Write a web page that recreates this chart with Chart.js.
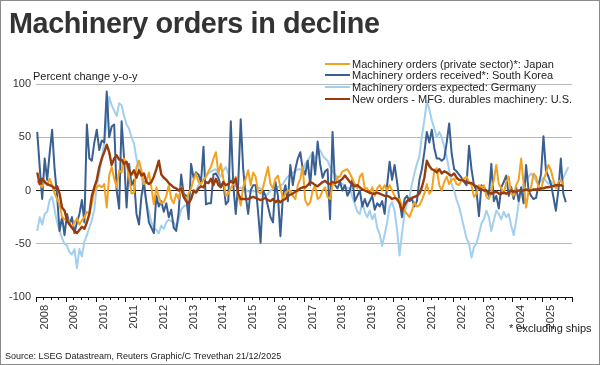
<!DOCTYPE html>
<html><head><meta charset="utf-8">
<script src="https://cdn.jsdelivr.net/npm/chart.js@4.4.1/dist/chart.umd.min.js"></script>
<style>
html,body{margin:0;padding:0;background:#fff;}
#wrap{position:relative;width:600px;height:365px;overflow:hidden;background:#fff;font-family:"Liberation Sans",Arial,sans-serif;}
#frame{position:absolute;left:0;top:0;width:600px;height:365px;box-sizing:border-box;border:1px solid #8a8a8a;pointer-events:none;}
canvas{position:absolute;left:0;top:0;}
#title{position:absolute;left:9px;top:6px;font-weight:bold;font-size:30px;letter-spacing:-0.4px;color:#333;white-space:nowrap;transform:scaleX(0.96);transform-origin:0 0;line-height:1.117;}
#unit{position:absolute;left:33px;top:70px;font-size:11px;color:#222;white-space:nowrap;line-height:13px;}
#legend{position:absolute;left:325px;top:58px;font-size:11px;color:#222;}
.row{height:11.6px;white-space:nowrap;display:flex;align-items:center;}
.sw{display:inline-block;width:25px;height:2px;margin-right:2px;}
#note{position:absolute;left:509px;top:322px;font-size:11px;color:#222;white-space:nowrap;line-height:13px;}
#source{position:absolute;left:5px;top:351px;font-size:9px;color:#222;white-space:nowrap;line-height:11px;}
</style></head><body>
<div id="wrap">
<canvas id="c" width="600" height="365"></canvas>
<div id="title">Machinery orders in decline</div>
<div id="unit">Percent change y-o-y</div>
<div id="legend"></div>
<div id="note">* excluding ships</div>
<div id="source">Source: LSEG Datastream, Reuters Graphic/C Trevethan 21/12/2025</div>
<div id="frame"></div>
</div>
<script>
// ---- data (monthly, Jan 2008 onward, % change y/y) ----
const startYear = 2008;
const endYear = 2025;
const yTicks = [-100, -50, 0, 50, 100];

const japan = [
  9, 6, 3, 9, 5, 11, 5, -3, -8, -13, -25, -27,
  -27, -30, -35, -30, -26, -32, -28, -25, -20, -22, -12, 0,
  3, 5, 3, 6, -16, 14, 22, 11, 3, 19, 17, 30,
  25, 13, -3, -2, 22, 28, 19, 6, 8, 17, 3, -13,
  3, -6, -12, -11, -5, 5, -8, -12, -3, -8, 3, -5,
  -9, -3, 2, 10, 16, 8, 6, 10, 13, 18, 22, 30,
  36, 16, 25, 11, -5, -3, 2, 6, 13, -5, -14, 3,
  11, 19, 5, 17, 13, -1, -3, 3, 13, 22, 6, 2,
  11, 14, 3, -8, -3, 0, 0, -5, -8, 5, 11, 22,
  -9, -14, -11, 0, 5, -8, -6, 0, 3, -6, -8, 5,
  6, 13, 13, 18, 19, 20, 16, 11, 6, 2, 13, 16,
  2, 2, -3, 3, -5, 2, 5, 0, 5, 0, 5, 0,
  -5, -9, -8, -14, -19, -22, -25, -19, -11, -15, -14, -9,
  -3, 6, -3, 0, 19, 21, 5, 0, 8, 13, 6, 10,
  11, 6, 5, 10, 11, 13, 8, 5, -6, -3, 5, 3,
  5, -6, -8, -1, 10, 24, 6, 2, -3, 8, 13, -3,
  -5, 5, 10, 30, 6, -16, 0, 3, 16, 13, 3, 1,
  10, 16, 24, 19, 10, 2, 8, 10, 5
];

const korea = [
  55, 22, -8, 30, 10, 35, 57, 20, -5, -38, -25, -42,
  -22, -32, -25, -40, -30, -22, -9, -30, 62, 30, 28, 45,
  57, 38, 47, 45, 93, 50, 60, 62, 0, -17, 65, 30,
  -16, 25, 5, 10, -22, -32, -5, 8, -12, -30, -35, -40,
  -5, -15, -10, -20, -12, -25, -18, -35, -38, -20, 15, -3,
  -5, -27, 25, 12, 17, 15, 8, 41, -13, -12, -12, 15,
  16, 12, 3, 8, -13, -10, 65, 5, -22, 7, 67, 20,
  -5, -22, 0, 5, 5, -20, -49, 0, -5, -15, -25, -30,
  8, -5, -43, -5, 5, -10, 24, 5, 20, 30, 36, 20,
  15, 28, 5, 36, 15, 46, 25, 12, 18, 20, -27, 55,
  5, 2, 8, 0, 5, -5, 0, 10, -10, -5, 0, -15,
  -8, -15, -10, -5, -18, -12, -15, -10, -22, 5, 27, 10,
  24, 8, -10, -25, -8, -5, -10, -8, -15, -10, 10, 20,
  36, 55, 45, 57, 40, 30, 30, 28, 30, 45, 63, 35,
  20, 18, 15, 12, 8, 5, 42, 20, 5, 0, -24, 5,
  3, 0, -5, 25, -10, -5, -17, 3, 8, 14, -5, 3,
  -8, 3, -10, 3, -12, 24, 0, -5, -8, -7, 5, 15,
  51, 19, 13, 6, -6, -19, 0, 30, -3, -11
];

const germany = [
  -38, -25, -32, -22, -20, -9, -6, -18, -30, -38, -45, -50,
  -52, -58, -60, -55, -73, -55, -62, -48, -42, -35, -28, -18,
  5, 15, 30, 45, 65, 88, 80, 75, 70, 82, 80, 70,
  62, 58, 50, 44, 30, 20, 13, 0, -10, -20, -30, -35,
  -37, -40, -33, -36, -30, -27, -29, -30, -35, -27, -18, -15,
  -14, -11, -8, -3, 0, 5, 8, 10, 13, 16, 18, 19,
  20, 16, 13, 19, 22, 16, 10, 4, 5, 2, 3, 0,
  1, -1, 0, -1, 0, 3, 2, -1, -5, -3, 0, 1,
  2, 3, 5, 6, 10, 13, 15, 17, 18, 20, 20, 17,
  25, 28, 32, 35, 30, 36, 38, 33, 30, 28, 22, 18,
  15, 12, 8, 6, 4, 2, 2, -6, -13, -20, -22, -11,
  -20, -25, -19, -27, -22, -35, -41, -52, -41, -30, -15, -11,
  -19, -37, -61, -40, -22, -12, -6, 6, 16, 25, 32, 51,
  66, 84, 76, 66, 58, 50, 55, 50, 41, 32, 19, 6,
  0, -9, -15, -25, -35, -45, -50, -63, -53, -50, -41, -31,
  -27, -19, -25, -38, -28, -19, -22, -27, -20, -25, -22, -33,
  -42, -28, -12, 0, 6, 9, 13, 16, 13, 9, 6, 9,
  12, 9, 6, 9, 5, 3, 6, 9, 12, 17, 22
];

const us = [
  17, 6, 11, 8, 6, 5, 4, 2, 4, -3, -16, -19,
  -28, -32, -35, -38, -40, -37, -34, -36, -30, -22, -5, 3,
  10, 22, 30, 36, 43, 36, 24, 30, 33, 29, 29, 25,
  27, 19, 15, 19, 12, 19, 14, 16, 8, 6, 8, 13,
  20, 28, 15, 12, 10, 7, 5, 3, 2, 0, 2, -6,
  -10, -12, -8, 0, -2, 2, 4, 3, 8, 7, 11, 5,
  11, 5, 3, 8, 5, 6, 9, 7, 11, -3, -8, -8,
  -8, -8, -7, -6, -7, -8, -9, -8, -7, -9, -10, -8,
  -11, -9, -11, -9, -8, -5, -4, -3, -1, 0, 2, 3,
  3, 5, 8, 7, 5, 4, 6, 8, 9, 7, 6, 8,
  7, 8, 9, 11, 14, 11, 8, 6, 4, 5, 3, 1,
  0, -1, -2, -3, -3, -2, -3, -4, -5, -5, -6, -8,
  -7, -8, -12, -19, -14, -10, -8, -7, -6, -5, -3, 3,
  12, 28, 23, 20, 19, 17, 20, 16, 18, 17, 15, 14,
  16, 12, 10, 10, 9, 8, 7, 7, 5, 4, 2, 1,
  0, 0, -2, -3, -2, -1, -3, -3, -2, -3, -2, 0,
  -1, -1, 0, 0, 0, 1, 0, 0, 1, 1, 1, 2,
  2, 3, 3, 4, 4, 5, 5, 5, 4
];

const seriesNames = [
  'Machinery orders (private sector)*: Japan',
  'Machinery orders received*: South Korea',
  'Machinery orders expected: Germany',
  'New orders - MFG. durables machinery: U.S.'
];
const seriesColors = ['#F4A21E', '#3A5F91', '#A3CFEF', '#9A3B0C'];

// month labels
const months = [];
for (let y = startYear; y <= endYear; y++) {
  for (let m = 1; m <= 12; m++) months.push(y + '-' + String(m).padStart(2, '0'));
}

Chart.defaults.font.family = '"Liberation Sans", Arial, sans-serif';

const axisTicks = {
  id: 'axisTicks',
  afterDraw(chart) {
    const xs = chart.scales.x, ctx = chart.ctx;
    const y0 = chart.chartArea.bottom;
    ctx.save();
    ctx.strokeStyle = '#111';
    ctx.lineWidth = 1;
    for (let i = 0; i <= months.length; i += 3) {
      const px = Math.round(xs.getPixelForValue(i - 0.5)) + 0.5;
      const len = (i % 12 === 0) ? 5 : 3;
      ctx.beginPath();
      ctx.moveTo(px, y0);
      ctx.lineTo(px, y0 + len);
      ctx.stroke();
    }
    ctx.restore();
  }
};

const dataArrays = [japan, korea, germany, us];
const orders = [1, 2, 3, 0];
const widths = [2, 2, 2, 2.4];

const chart = new Chart(document.getElementById('c'), {
  type: 'line',
  data: {
    labels: months,
    datasets: dataArrays.map((d, i) => ({
      label: seriesNames[i],
      data: d,
      borderColor: seriesColors[i],
      backgroundColor: seriesColors[i],
      borderWidth: widths[i],
      order: orders[i],
      pointRadius: 0,
      tension: 0,
      fill: false,
      borderJoinStyle: 'round'
    }))
  },
  options: {
    responsive: false,
    animation: false,
    devicePixelRatio: 1,
    layout: { padding: { top: 84, right: 28, left: 0, bottom: 0 } },
    plugins: { legend: { display: false }, tooltip: { enabled: false } },
    scales: {
      x: {
        type: 'category',
        offset: true,
        grid: { display: false, drawTicks: false },
        border: { display: true, color: '#111', width: 1 },
        ticks: {
          autoSkip: false, minRotation: 90, maxRotation: 90, padding: 8,
          color: '#333', font: { size: 11 },
          callback: (v, i) => (i % 12 === 3) ? String(startYear + Math.floor(i / 12)) : ''
        },
        afterFit: s => { s.height = 68; }
      },
      y: {
        min: yTicks[0], max: yTicks[yTicks.length - 1],
        afterBuildTicks: s => { s.ticks = yTicks.map(v => ({ value: v })); },
        border: { display: false },
        grid: {
          drawTicks: false,
          lineWidth: 1,
          color: c => c.tick.value === 0 ? '#222' : (c.tick.value === -100 ? 'rgba(0,0,0,0)' : '#b9b9b9')
        },
        ticks: { padding: 5, color: '#333', font: { size: 11 } },
        afterFit: s => { s.width = 36; }
      }
    }
  },
  plugins: [axisTicks]
});

// legend built from datasets
const lg = document.getElementById('legend');
chart.data.datasets.forEach(ds => {
  const row = document.createElement('div');
  row.className = 'row';
  const sw = document.createElement('span');
  sw.className = 'sw';
  sw.style.background = ds.borderColor;
  const tx = document.createElement('span');
  tx.textContent = ds.label;
  row.appendChild(sw); row.appendChild(tx);
  lg.appendChild(row);
});
</script>
</body></html>
